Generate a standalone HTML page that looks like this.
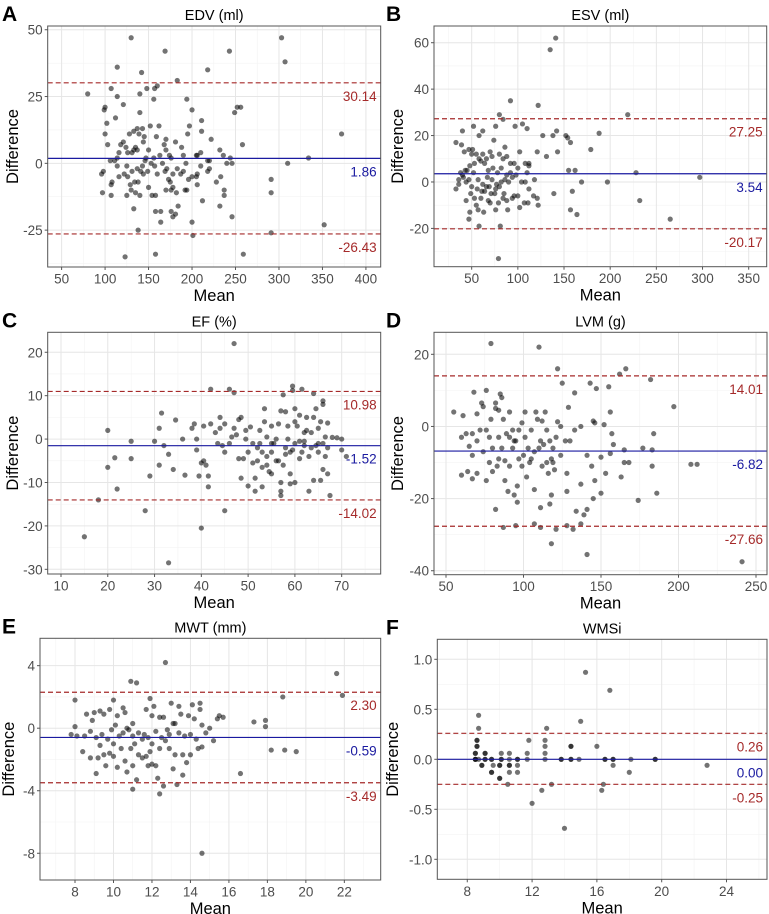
<!DOCTYPE html>
<html><head><meta charset="utf-8"><style>
html,body{margin:0;padding:0;background:#fff;}
svg{display:block;font-family:"Liberation Sans",Arial,sans-serif;}
</style></head><body>
<svg id="fig" width="769" height="914" viewBox="0 0 769 914" xmlns="http://www.w3.org/2000/svg"></svg>
<script>
// ---- Data ----
const edvPoints=[[130,47],[169,42],[243,42],[303,47],[307,38],[114,36],[142,34],[218,35],[183,31],[80,26],[114,25],[156,24],[148,28],[157,28],[160,29],[107,28],[140,26],[194,24],[249,19],[252,21],[256,21],[100,21],[99,20],[121,22],[102,15],[112,17],[200,20],[211,16],[140,19],[372,11],[334,2],[310,0],[291,-6],[291,-11],[352,-23],[291,-26],[259,-34],[123,-35],[158,-34],[138,-25],[201,-27],[200,-22],[164,-22],[158,-18],[164,-18],[176,-18],[181,-19],[184,-16],[178,-20],[232,-16],[246,-20],[212,-14],[237,-12],[237,-10],[133,-17],[97,-11],[107,-12],[125,-12],[140,-12],[154,-12],[135,-11],[192,-10],[194,-10],[233,-5],[218,-3],[100,11],[103,7],[258,7],[222,9],[211,12],[232,5],[236,3],[244,2],[246,0],[240,0],[218,1],[206,3],[197,14],[195,11],[181,8],[170,9],[170,5],[168,7],[174,3],[162,14],[152,14],[143,13],[137,13],[133,12],[139,11],[145,10],[128,11],[121,8],[124,6],[135,6],[137,5],[133,5],[126,4],[116,4],[118,7],[111,1],[106,1],[147,2],[156,2],[163,3],[176,2],[190,3],[188,6],[210,4],[205,3],[220,1],[96,-4],[98,-3],[107,-8],[108,-7],[114,-1],[116,-5],[122,-4],[126,-5],[129,-8],[134,-7],[138,-7],[141,-3],[144,-4],[149,-3],[153,0],[160,-4],[166,0],[171,-2],[173,-6],[175,-7],[178,-9],[183,-2],[187,-4],[190,-3],[196,-6],[205,-5],[210,-1],[206,-8],[200,-5],[150,-9],[158,-12],[130,-10],[137,-2],[131,-3],[146,1],[150,5],[157,-1],[169,-3],[178,-4],[193,0],[159,10],[144,8],[131,4],[114,2],[125,-1],[143,-1],[170,-10],[176,-10],[182,-11],[220,-2],[228,-7],[206,-4]];
const edvLines=[30.14,1.86,-26.43];
const edvXTicks=[50,100,150,200,250,300,350,400];
const edvYTicks=[-25,0,25,50];

const esvPoints=[[141,62],[135,57],[92,35],[122,33],[80,29],[84,27],[219,29],[105,25],[97,24],[76,24],[110,23],[62,22],[40,22],[52,24],[127,20],[138,20],[142,22],[152,20],[154,19],[188,21],[157,17],[121,13],[143,13],[131,11],[179,14],[74,18],[58,20],[33,17],[39,16],[42,13],[47,14],[51,14],[55,12],[62,12],[66,10],[72,11],[80,12],[86,15],[88,11],[92,8],[102,13],[108,8],[112,7],[118,1],[155,5],[162,5],[228,4],[297,2],[197,0],[169,0],[159,-4],[139,-5],[157,-12],[164,-14],[232,-8],[265,-16],[79,-33],[81,-19],[58,-19],[47,-16],[48,-13],[57,-12],[63,-13],[76,-12],[89,-12],[102,-11],[107,-9],[111,-9],[122,-10],[121,-7],[94,-7],[84,-7],[68,-8],[70,-9],[55,-10],[44,-8],[33,-3],[36,1],[40,3],[45,5],[48,7],[53,8],[58,10],[64,8],[68,5],[73,6],[78,4],[82,6],[88,3],[94,2],[98,3],[104,0],[108,0],[112,-3],[117,-6],[44,0],[50,-2],[56,-3],[61,-4],[66,-2],[71,-5],[76,-3],[80,-2],[85,-5],[90,0],[96,-6],[100,-6],[36,-1],[41,2],[47,1],[52,4],[57,1],[62,-1],[67,2],[72,1],[77,-1],[82,0],[86,1],[92,4],[96,8],[38,4],[43,5],[49,-5],[53,-7],[60,-7],[64,-4],[69,-2],[75,-5],[79,-9],[88,-8],[110,4],[50,12],[60,9],[70,13],[84,10],[100,6],[112,8]];
const esvLines=[27.25,3.54,-20.17];
const esvXTicks=[50,100,150,200,250,300,350];
const esvYTicks=[-20,0,20,40,60];

const efPoints=[[47,22],[15,-22.5],[33,-28.5],[18,-14],[28,-16.5],[40,-20.5],[45,-16.5],[20,2],[20,-6.5],[21.5,-4.3],[22,-11.5],[25,-0.5],[25,-4.5],[29,-8.5],[30,-0.5],[31,2.5],[31.5,6],[31,-6],[32,-1.5],[33,-3.5],[34,-7],[34.5,4.4],[36,0],[36.5,-8.3],[38,2.5],[38.5,3.5],[39,-2.5],[39,0],[39.5,-8.5],[40,-5.5],[40.5,-5],[40.5,3],[41,-6],[41.5,-8.5],[41.5,-11],[42,3.5],[42,11.5],[43,1.5],[43.5,-1],[44,5],[44,2.5],[44.5,-1.5],[45,3.5],[45,-3],[46,11.5],[46,-1],[46.5,0.5],[47,10.7],[47,2.5],[47.5,1],[48,4.5],[48,-4.5],[48.5,5],[48.5,-9],[49,-4.5],[49.5,2],[49.5,0],[50,-3],[50,-10.8],[50.5,2.8],[51,-1],[51,-5.5],[51.5,-9],[51.5,-12],[52,-5],[52,-2],[52.5,2],[52.5,-1],[53,-6.5],[53,-3],[53.5,7],[53.5,4],[54,0.5],[54,-4],[54,-6],[54.5,-7.5],[55,3],[55,-1],[55,-3],[55.5,-1],[56,-5],[56,0],[56.5,3.5],[56.5,-5],[57,-12],[57,-13],[57,-10],[57,6.5],[57.5,-6],[57.5,10.2],[58,6.3],[58,-3.5],[58.5,0],[58.5,3],[59,-8],[59,-10.3],[59,-3],[59.5,12.2],[59.5,11.2],[59.5,-2.5],[60,7],[60,4],[60,-1],[60,-10],[60.5,3],[61,5.5],[61,-0.5],[61,-4.5],[61.5,11.5],[61.5,-3],[62,1.5],[62,-0.5],[62.5,5],[62.5,2],[63,-4],[63,-12],[63.5,-2],[63.5,1.5],[64,10.5],[64,-9.5],[64,5],[64.5,-1.5],[64.5,7],[65,2.5],[65,-3],[65.5,4],[65.5,-9.5],[66,8.8],[66,8],[66,-1],[66,-7],[66.5,0.5],[66.5,-4],[67,3.7],[67,-8],[67.5,-13],[67,-2],[68,0.4],[69,0.3],[70,0],[70,-2.5],[71,-4],[55,-8],[53,-11],[58,-2],[62,-1.5],[65,-1]];
const efLines=[10.98,-1.52,-14.02];
const efXTicks=[10,20,30,40,50,60,70];
const efYTicks=[-30,-20,-10,0,10,20];

const lvmPoints=[[79,23],[110,22],[122,16],[166,16],[162,14.5],[182,13],[143,12],[125,12],[147,10.5],[155,11],[133,9.3],[85,9],[86,8],[68,9.5],[76,10],[73,6.5],[74,5.5],[82,6.5],[84,4.5],[82,5],[55,4],[61,3],[70,3.5],[91,4],[101,4],[108,4],[114,4],[112,1.5],[122,1.3],[124,0],[133,-1],[129,5.3],[137,0],[145,1.5],[146,1],[152,0.5],[156,4],[197,5.5],[184,-2],[157,-2],[158,-5],[156,-7.5],[165,-6.5],[177,-6],[183,-6.5],[183,-11],[165,-10],[168,-10],[208,-10.5],[212,-10.5],[153,-13],[163,-14],[186,-18.5],[174,-20.5],[150,-18.5],[146,-15],[145,-20],[141,-23],[139,-24.5],[137,-27],[134,-23.5],[132,-28.5],[128,-27.5],[121,-28.5],[118,-32.5],[141,-35.5],[241,-37.5],[111,-28],[107,-27],[95,-27.5],[87,-28],[82,-23],[96,-21],[94,-19],[90,-18],[88,-15],[96,-16.5],[111,-22.5],[117,-21.5],[118,-19],[128,-18],[137,-16],[141,-8],[144,-11],[150,-8.5],[60,-13.5],[64,-12.5],[67,-14.5],[70,-13],[76,-15],[78,-10],[80,-12.5],[83,-11],[88,-9.5],[91,-11],[94,-4],[97,-9],[99,-11],[102,-14],[104,-10],[107,-17.5],[110,-6],[112,-11],[115,-10],[118,-9],[119,-10],[120,-12],[124,-8],[128,-13],[130,-4],[60,-3],[63,-2],[65,-5.5],[67,-8],[70,-4],[72,-1],[74,-7],[76,-1],[78,-3],[80,-6],[84,-3],[86,-6],[89,-2],[91,-3],[93,-6],[95,-4],[97,-1],[99,1],[101,-3],[103,-6],[105,-1],[107,-7],[109,2],[111,-4],[113,-5],[115,-1],[117,-4],[119,-6],[121,-3],[127,-4],[100,-8],[93,-1],[87,2],[79,2],[67,-2],[105,-9],[116,-13],[84,-9]];
const lvmLines=[14.01,-6.82,-27.66];
const lvmXTicks=[50,100,150,200,250];
const lvmYTicks=[-40,-20,0,20];

const mwtPoints=[[12.7,4.2],[21.6,3.5],[21.9,2.1],[18.8,2],[10.9,3],[11.2,2.9],[8,1.8],[10,1.8],[11.9,1.9],[12.1,1.4],[13,1.6],[13.4,1.4],[14.1,1.5],[14.5,1.6],[14.5,1.2],[15.4,0.6],[15.5,0.8],[15.7,0.7],[17.3,0.4],[17.9,0.5],[17.9,0.1],[18.2,-1.4],[18.9,-1.4],[19.5,-1.5],[16.6,-2.9],[14.6,-8],[12.4,-4.2],[11,-3.9],[12.6,-3.7],[13.3,-3.6],[11.2,-3.3],[13.6,-3],[12.3,-3.2],[9.1,-2.9],[10.7,-2.8],[9.6,-2.4],[10.2,-2.5],[11,-2.4],[13.1,-2.6],[12,-2.3],[12.2,-2.4],[13.8,-2.2],[14,-1.7],[13.6,-1.7],[11.5,-1.9],[11.7,-1.8],[7.8,-0.4],[8.1,-0.5],[8,0.1],[8.6,0.9],[8.9,0.5],[9,1],[9.3,1.1],[9.5,0.9],[9.8,1.2],[10.2,0.8],[10.5,1.3],[10.6,1],[11,0.3],[11.7,1.2],[12,0.8],[12.6,0.7],[13.2,0.3],[13.5,0.9],[14.2,0.6],[14.6,0.2],[15,0],[15.2,-0.8],[14.8,-0.3],[14.4,-1.3],[14.6,-1.2],[8.4,-1.5],[8.8,-1.9],[9.2,-1.9],[9.5,-1.7],[9.8,-1.6],[10,-1.8],[10.4,-1.3],[10.6,-2.1],[11.3,-1.7],[11.8,-2.4],[12.4,-1.3],[12.9,-1.3],[13.2,-1.7],[8.5,-0.5],[8.8,-0.2],[9.1,-0.6],[9.4,-0.4],[9.7,-0.7],[9.9,-0.1],[10.1,0.2],[10.3,-0.5],[10.5,-0.3],[10.7,0],[10.8,-0.1],[11,-0.5],[11.1,-1],[11.3,-0.3],[11.5,-0.7],[11.6,-0.4],[11.8,-0.6],[12,-1],[12.2,-0.2],[12.4,0.7],[12.5,-0.6],[12.7,-0.8],[12.9,-0.4],[13.1,0.3],[13.4,-0.3],[13.7,-0.5],[13.9,0.8],[14.3,-0.7],[9.3,-1.1],[10,-1],[10.9,-1.3],[11.9,-1.5],[12.8,-0.1],[14,-0.4]];
const mwtLines=[2.30,-0.59,-3.49];
const mwtXTicks=[8,10,12,14,16,18,20,22];
const mwtYTicks=[-8,-4,0,4];

const wmsiPoints=[[15.3,0.87],[16.8,0.69],[8.7,0.44],[15,0.38],[8.7,0.31],[12.9,0.31],[8.6,0.19],[8.6,0.19],[11.8,0.19],[12.8,0.19],[8.6,0.13],[8.6,0.13],[12.8,0.13],[14.4,0.13],[14.4,0.13],[16,0.13],[8.5,0.06],[8.5,0.06],[9.1,0.06],[9.1,0.06],[10.1,0.06],[10.6,0.06],[11.7,0.06],[12.8,0.06],[8.5,0],[8.5,0],[8.5,0],[8.7,0],[9.1,0],[9.1,0],[9.5,0],[9.5,0],[10.1,0],[10.1,0],[10.6,0],[11.1,0],[11.1,0],[11.7,0],[12.8,0],[13.8,0],[13.8,0],[14.4,0],[14.4,0],[14.9,0],[16.5,0],[16.5,0],[17,0],[17,0],[18.1,0],[19.6,0],[19.6,0],[8.9,-0.06],[8.9,-0.06],[9.6,-0.06],[10,-0.06],[10,-0.06],[10.6,-0.06],[10.6,-0.06],[11.1,-0.06],[17,-0.06],[22.8,-0.06],[9.5,-0.13],[9.5,-0.13],[10.6,-0.13],[11.1,-0.13],[18,-0.13],[10,-0.19],[10,-0.19],[10.5,-0.25],[13.2,-0.25],[16.4,-0.25],[12.6,-0.31],[16.3,-0.31],[12,-0.44],[14,-0.69]];
const wmsiLines=[0.26,0.00,-0.25];
const wmsiXTicks=[8,12,16,20,24];
const wmsiYTicks=[-1.0,-0.5,0.0,0.5,1.0];
</script>
<script>
const NS="http://www.w3.org/2000/svg";
const svg=document.getElementById('fig');
function mk(tag,attrs,parent){const e=document.createElementNS(NS,tag);for(const k in attrs)e.setAttribute(k,attrs[k]);(parent||svg).appendChild(e);return e;}
function fmt(v,dec){return dec>0?v.toFixed(dec):String(v);}

function panel(cfg){
  const g=mk('g',{});
  
  
  const L=cfg.box[0],T=cfg.box[1],R=cfg.box[2],B=cfg.box[3];
  const sx=v=>L+(v-cfg.xd[0])/(cfg.xd[1]-cfg.xd[0])*(R-L);
  const sy=v=>B-(v-cfg.yd[0])/(cfg.yd[1]-cfg.yd[0])*(B-T);
  function minors(t,d){const s=t[1]-t[0],out=[];for(let v=t[0]-s/2;v<=d[1];v+=s){if(v>=d[0])out.push(v);}return out;}
  const grid=mk('g',{},g);
  
  
  minors(cfg.xt,cfg.xd).forEach(v=>mk('line',{x1:sx(v),x2:sx(v),y1:T,y2:B,stroke:'#f3f3f3','stroke-width':0.6},grid));
  minors(cfg.yt,cfg.yd).forEach(v=>mk('line',{x1:L,x2:R,y1:sy(v),y2:sy(v),stroke:'#f3f3f3','stroke-width':0.6},grid));
  cfg.xt.forEach(v=>mk('line',{x1:sx(v),x2:sx(v),y1:T,y2:B,stroke:'#e6e6e6','stroke-width':1},grid));
  cfg.yt.forEach(v=>mk('line',{x1:L,x2:R,y1:sy(v),y2:sy(v),stroke:'#e6e6e6','stroke-width':1},grid));
  const pts=mk('g',{},g);
  
  
  cfg.pts.forEach(p=>{
    const c=mk('circle',{cx:sx(p[0]),cy:sy(p[1]),r:2.6,fill:'#000','fill-opacity':0.55},pts);
    
    
  });
  const cols=['#a52a2a','#1a1aa0','#a52a2a'];
  const names=['upper-limit','bias','lower-limit'];
  cfg.lines.forEach((v,i)=>{
    const y=sy(v);
    const ln=mk('line',{x1:L,x2:R,y1:y,y2:y,stroke:cols[i],'stroke-width':1.2,'stroke-dasharray':i==1?'none':'5,3'},g);
    
    
    const t=mk('text',{x:R-4,y:y+18,'text-anchor':'end','font-size':13.5,fill:cols[i]},g);
    t.textContent=v.toFixed(2);
    
    
  });
  const bd=mk('rect',{x:L,y:T,width:R-L,height:B-T,fill:'none',stroke:'#555','stroke-width':1},g);
  
  
  cfg.xt.forEach(v=>{
    mk('line',{x1:sx(v),x2:sx(v),y1:B,y2:B+3,stroke:'#555'},g);
    const t=mk('text',{x:sx(v),y:B+16.5,'text-anchor':'middle','font-size':13.5,fill:'#4d4d4d'},g);
    t.textContent=fmt(v,cfg.xdec||0);
    
    
  });
  cfg.yt.forEach(v=>{
    mk('line',{x1:L-3,x2:L,y1:sy(v),y2:sy(v),stroke:'#555'},g);
    const t=mk('text',{x:L-5,y:sy(v)+5,'text-anchor':'end','font-size':13.5,fill:'#4d4d4d'},g);
    t.textContent=fmt(v,cfg.ydec||0);
    
    
  });
  const xl=mk('text',{x:(L+R)/2,y:B+34,'text-anchor':'middle','font-size':16.5,fill:'#000'},g);
  xl.textContent='Mean';
  
  
  const yc=(T+B)/2, yx=cfg.ylx;
  const yl=mk('text',{x:yx,y:yc,'text-anchor':'middle','font-size':16.5,fill:'#000',transform:'rotate(-90 '+yx+' '+yc+')'},g);
  yl.textContent='Difference';
  
  
  const tt=mk('text',{x:(L+R)/2,y:T-6,'text-anchor':'middle','font-size':14.5,fill:'#000'},g);
  tt.textContent=cfg.title;
  
  
  const lt=mk('text',{x:cfg.lx,y:T-5,'font-size':21,'font-weight':'bold',fill:'#000'},g);
  lt.textContent=cfg.id;
  
  
}

panel({id:'A',title:'EDV (ml)',box:[47.7,26,380.7,267],xd:[34,417],yd:[-38.8,51.4],xt:edvXTicks,yt:edvYTicks,pts:edvPoints,lines:edvLines,ylx:18,lx:2});
panel({id:'B',title:'ESV (ml)',box:[434,26,766.7,266.7],xd:[9.2,369.5],yd:[-36.5,67.2],xt:esvXTicks,yt:esvYTicks,pts:esvPoints,lines:esvLines,ylx:403,lx:386});
panel({id:'C',title:'EF (%)',box:[47.7,332.3,380.7,574],xd:[7.16,78.34],yd:[-31.08,24.6],xt:efXTicks,yt:efYTicks,pts:efPoints,lines:efLines,ylx:18,lx:2});
panel({id:'D',title:'LVM (g)',box:[434,332.3,767,574.7],xd:[42.26,257.1],yd:[-41.1,26.1],xt:lvmXTicks,yt:lvmYTicks,pts:lvmPoints,lines:lvmLines,ylx:403,lx:386});
panel({id:'E',title:'MWT (mm)',box:[40,638.3,380.7,880],xd:[6.18,23.89],yd:[-9.71,5.75],xt:mwtXTicks,yt:mwtYTicks,pts:mwtPoints,lines:mwtLines,ylx:14,lx:2});
panel({id:'F',title:'WMSi',box:[437.3,639.3,767,879.3],xd:[6.15,26.5],yd:[-1.2,1.2],xt:wmsiXTicks,yt:wmsiYTicks,pts:wmsiPoints,lines:wmsiLines,ylx:398,lx:386,ydec:1});
</script>
</body></html>
